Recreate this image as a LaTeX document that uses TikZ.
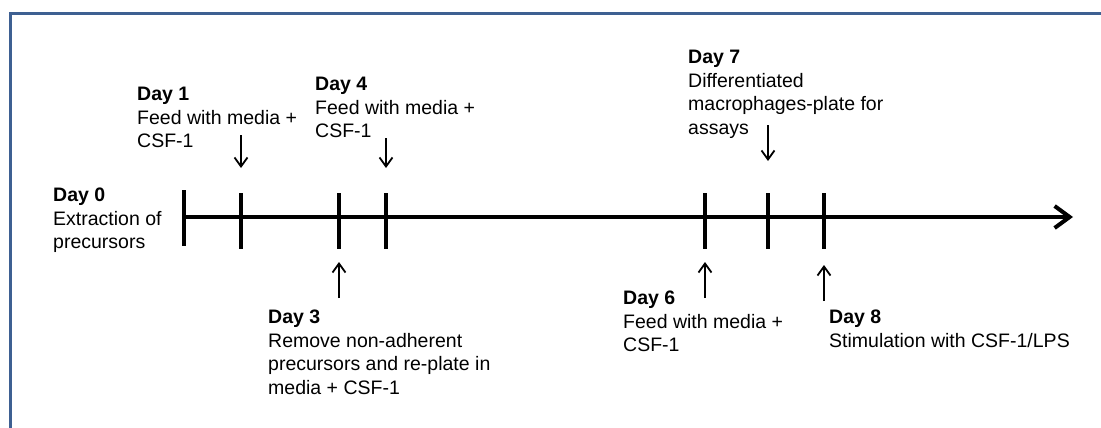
\documentclass[tikz,border=0pt]{standalone}
\usepackage{fontspec}
\setmainfont{Liberation Sans}
\usetikzlibrary{arrows.meta}
\definecolor{frameblue}{RGB}{62,96,146}
\begin{document}
\begin{tikzpicture}[x=1pt,y=-1pt,
  daytext/.style={anchor=north west,align=left,inner sep=0pt,font=\fontsize{19.5}{23.5}\selectfont},
  tickmark/.style={black,line width=4pt},
  pointer/.style={black,line width=1.8pt,-{Straight Barb[length=9pt,width=13pt]}},
  axisline/.style={black,line width=4pt,-{Straight Barb[length=15pt,width=22pt]}}]
\useasboundingbox (0,0) rectangle (1101,428);
\draw [frameblue,line width=3pt] (10.5,428) -- (10.5,13.5) -- (1101,13.5);
% time axis
\coordinate (start) at (184,217);
\coordinate (end) at (1073,217);
\draw [axisline] (start) -- (end);
\draw [tickmark] (184,190) -- (184,246);
\draw [tickmark] (241,193) -- (241,249);
\draw [tickmark] (339,193) -- (339,249);
\draw [tickmark] (386,193) -- (386,249);
\draw [tickmark] (705,193) -- (705,249);
\draw [tickmark] (768,193) -- (768,249);
\draw [tickmark] (824,193) -- (824,249);
% labels
\node [daytext] (day0) at (53,188) {\textbf{Day 0}\\Extraction of\\precursors};
\node [daytext] (day1) at (137,87) {\textbf{Day 1}\\Feed with media +\\CSF-1};
\node [daytext] (day4) at (315,77) {\textbf{Day 4}\\Feed with media +\\CSF-1};
\node [daytext] (day7) at (688,50) {\textbf{Day 7}\\Differentiated\\macrophages-plate for\\assays};
\node [daytext] (day3) at (268,310) {\textbf{Day 3}\\Remove non-adherent\\precursors and re-plate in\\media + CSF-1};
\node [daytext] (day6) at (623,291) {\textbf{Day 6}\\Feed with media +\\CSF-1};
\node [daytext] (day8) at (829,310) {\textbf{Day 8}\\Stimulation with CSF-1/LPS};
% pointers
\coordinate (p1) at (241,135);
\coordinate (q1) at (241,168);
\coordinate (p4) at (386,138);
\coordinate (q4) at (386,168);
\coordinate (p7) at (768,125);
\coordinate (q7) at (768,161);
\coordinate (p3) at (339,298);
\coordinate (q3) at (339,262);
\coordinate (p6) at (705,298);
\coordinate (q6) at (705,262);
\coordinate (p8) at (824,301);
\coordinate (q8) at (824,265);
\draw [pointer] (p1) -- (q1);
\draw [pointer] (p4) -- (q4);
\draw [pointer] (p7) -- (q7);
\draw [pointer] (p3) -- (q3);
\draw [pointer] (p6) -- (q6);
\draw [pointer] (p8) -- (q8);
\end{tikzpicture}
\end{document}
